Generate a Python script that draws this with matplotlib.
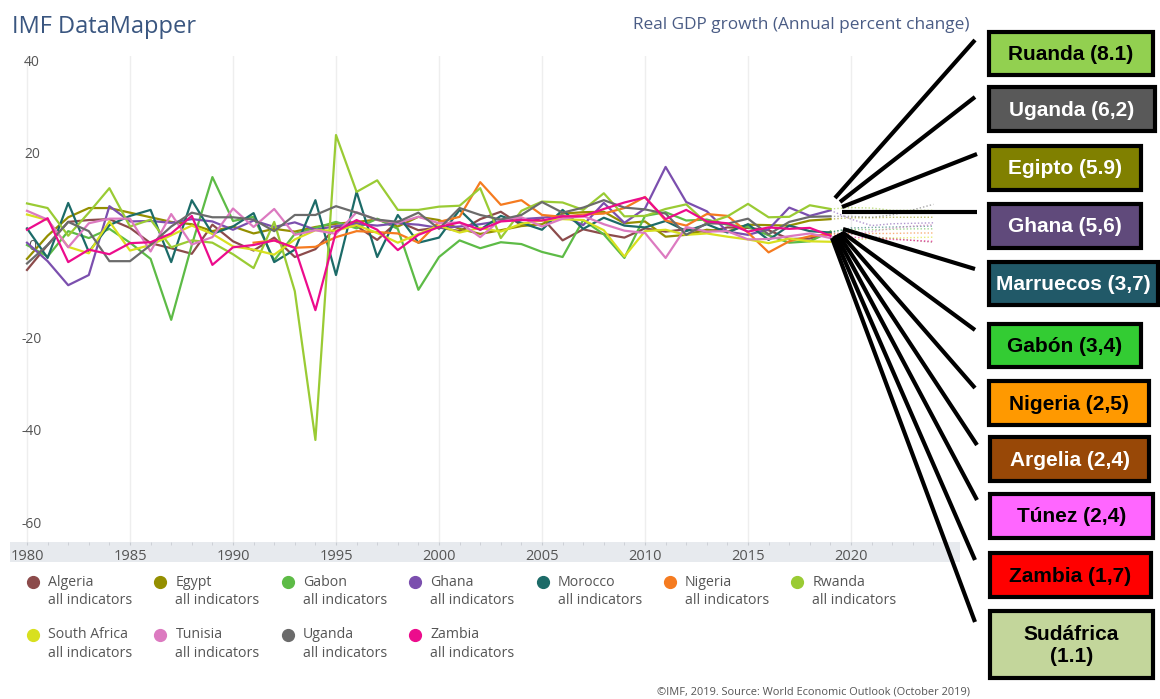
import numpy as np
import matplotlib
matplotlib.use("Agg")
import matplotlib.pyplot as plt
from matplotlib.patches import Rectangle

# Real GDP growth, annual % change, 1980-2024 (2020+ are projections)
years = list(range(1980, 2025))
last_actual = 2019

countries = ["Algeria", "Egypt", "Gabon", "Ghana", "Morocco", "Nigeria", "Rwanda",
             "South Africa", "Tunisia", "Uganda", "Zambia"]
colors = ["#8c4b4b", "#948f00", "#5dbb46", "#7b4fae", "#1c6b68", "#f57b20", "#9acb34",
          "#d8e01f", "#dc7ac0", "#6b6b6b", "#ec0c8c"]

algeria = [-5.4, 0.0, 5.0, 5.4, 5.6, 3.7, 0.4, -0.7, -1.9, 4.4, 0.8, -1.2, 1.6, -2.6, -0.9,
           3.8, 4.1, 1.1, 5.1, 3.2, 3.8, 3.0, 5.6, 7.2, 4.3, 5.9, 1.0, 3.4, 2.4, 1.6,
           3.6, 2.9, 3.4, 2.8, 3.8, 3.7, 3.2, 1.3, 1.4, 2.6, 2.4, 1.8, 1.4, 1.0, 0.6]
egypt = [-3.0, 2.0, 6.0, 8.0, 8.0, 7.0, 6.0, 5.0, 4.5, 3.0, 4.0, 2.5, 3.5, 2.9, 3.9,
         4.6, 5.0, 5.5, 4.0, 6.1, 5.4, 3.5, 2.4, 3.2, 4.1, 4.5, 6.8, 7.1, 7.2, 4.7,
         5.1, 1.8, 2.2, 3.3, 2.9, 4.4, 4.3, 4.2, 5.3, 5.6, 5.9, 5.9, 6.0, 6.0, 6.0]
gabon = [0.0, -2.5, 3.0, 1.5, 3.5, 0.5, -3.0, -16.2, 0.0, 14.7, 5.2, 6.1, -3.3, 2.4, 3.7,
         5.0, 3.6, 5.7, 3.5, -9.7, -2.6, 1.0, -0.7, 0.6, 0.2, -1.5, -2.6, 5.4, 2.3, -2.8,
         6.3, 7.1, 5.3, 5.5, 4.4, 3.9, 2.1, 0.5, 0.8, 2.9, 3.4, 3.3, 3.4, 3.5, 3.5]
ghana = [0.5, -3.5, -8.7, -6.5, 8.4, 5.1, 5.2, 4.8, 5.6, 5.1, 3.3, 5.3, 3.9, 4.9, 3.3,
         4.1, 4.6, 4.2, 4.7, 4.4, 3.7, 4.0, 4.5, 5.2, 5.6, 5.9, 6.4, 4.3, 9.1, 4.8,
         7.9, 16.9, 9.3, 7.3, 2.9, 2.2, 3.4, 8.1, 6.3, 7.5, 5.6, 4.2, 4.6, 4.7, 4.8]
morocco = [3.6, -2.8, 9.1, -1.5, 4.3, 6.3, 7.6, -3.7, 9.7, 2.4, 4.0, 6.9, -3.7, -1.0, 9.7,
           -6.5, 11.5, -2.6, 6.5, 0.5, 1.6, 7.6, 3.3, 6.3, 4.8, 3.3, 7.6, 3.5, 5.9, 4.2,
           3.8, 5.2, 3.0, 4.5, 2.7, 4.5, 1.1, 4.2, 3.0, 2.7, 3.7, 3.8, 3.9, 4.0, 4.1]
nigeria = [np.nan] * 11 + [
           0.5, 1.0, -0.6, -0.4, 1.7, 3.0, 2.8, 2.5, 0.5, 5.0, 6.1, 13.6, 8.7, 9.7,
           6.5, 6.1, 6.6, 6.8, 8.0, 10.4, 5.3, 4.2, 6.7, 6.3, 2.7, -1.6, 0.8, 1.9, 2.3,
           2.5, 2.5, 2.5, 2.6, 2.6]
rwanda = [9.0, 8.0, 2.0, 7.0, 12.3, 4.0, 5.5, -0.5, 1.0, 0.5, -2.0, -5.0, 5.0, -10.0, -42.2,
          23.8, 11.5, 14.0, 7.6, 7.6, 8.3, 8.5, 12.3, 1.5, 7.4, 9.4, 9.2, 7.6, 11.2, 6.2,
          6.3, 7.8, 8.8, 4.7, 6.2, 8.9, 6.0, 6.1, 8.6, 7.8, 8.1, 8.0, 7.5, 7.5, 7.5]
south_africa = [6.6, 5.4, -0.4, -1.8, 5.1, -1.2, 0.0, 2.1, 4.2, 2.4, -0.3, -1.0, -2.1, 1.2, 3.2,
                3.1, 4.3, 2.6, 0.5, 2.4, 4.2, 2.7, 3.7, 2.9, 4.6, 5.3, 5.6, 5.4, 3.2, -2.5,
                3.0, 3.3, 2.2, 2.5, 1.8, 1.2, 0.4, 1.4, 0.8, 0.7, 1.1, 1.4, 1.5, 1.6, 1.7]
tunisia = [7.4, 5.5, -0.5, 4.7, 5.7, 5.7, -1.4, 6.7, 0.1, 1.7, 7.9, 3.9, 7.8, 2.2, 3.2,
           2.4, 7.1, 5.4, 4.8, 6.1, 4.7, 4.9, 1.7, 5.5, 6.0, 4.0, 5.7, 6.3, 4.5, 3.1,
           2.6, -2.8, 3.9, 2.9, 3.0, 1.2, 1.3, 1.9, 2.5, 1.5, 2.4, 2.9, 3.6, 4.1, 4.4]
uganda = [-4.0, 0.0, 5.0, 3.0, -3.5, -3.5, 0.0, 4.0, 7.0, 6.0, 6.0, 5.5, 3.0, 6.5, 6.5,
          8.4, 7.0, 5.5, 5.0, 7.0, 3.5, 8.0, 6.5, 5.5, 6.5, 9.3, 7.0, 8.1, 9.7, 8.1,
          7.7, 6.8, 2.2, 4.7, 4.6, 5.7, 2.3, 5.0, 6.1, 6.2, 6.2, 6.0, 6.5, 7.6, 8.8]
zambia = [3.3, 5.8, -3.7, -1.0, -2.0, 0.4, 0.6, 2.5, 6.3, -4.3, -0.5, 0.0, 1.0, -0.6, -14.1,
          2.9, 5.4, 3.3, -1.1, 2.2, 3.9, 4.9, 3.3, 5.1, 5.4, 5.3, 6.2, 6.2, 7.8, 9.2,
          10.3, 5.6, 7.6, 5.1, 4.7, 2.9, 3.8, 3.5, 3.7, 2.0, 1.7, 1.5, 1.2, 1.0, 0.8]

series = [algeria, egypt, gabon, ghana, morocco, nigeria, rwanda,
          south_africa, tunisia, uganda, zambia]

# callout boxes on the right
box_labels = ["Ruanda (8.1)", "Uganda (6,2)", "Egipto (5.9)", "Ghana (5,6)", "Marruecos (3,7)",
              "Gabón (3,4)", "Nigeria (2,5)", "Argelia (2,4)", "Túnez (2,4)", "Zambia (1,7)",
              "Sudáfrica\n(1.1)"]
box_fill = ["#92d050", "#595959", "#808000", "#604a7b", "#215968", "#33cc33", "#ff9900",
            "#984807", "#ff66ff", "#ff0000", "#c3d69b"]
box_text = ["black", "white", "white", "white", "white", "black", "black",
            "white", "black", "black", "black"]

W, H = 1160, 699
fig = plt.figure(figsize=(W / 100, H / 100), dpi=100)
FONT = "Open Sans"

# main axes, pixel geometry: 1980 at x=27, 20.6 px/yr; y=0 at 245, 4.62 px/unit
x0, x1 = 1979.2, 2025.5
px_left = 27 + (x0 - 1980) * 20.6
px_right = 27 + (x1 - 1980) * 20.6
y_top, y_bot = 41.0, -64.3
py_top = 245 - y_top * 4.62
py_bot = 245 - y_bot * 4.62
ax = fig.add_axes([px_left / W, 1 - py_bot / H, (px_right - px_left) / W, (py_bot - py_top) / H])
ax.set_xlim(x0, x1)
ax.set_ylim(y_bot, y_top)
for s in ax.spines.values():
    s.set_visible(False)

yrs = np.array(years)
split = years.index(last_actual)
for vals, c in zip(series, colors):
    v = np.array(vals, dtype=float)
    ax.plot(yrs[:split + 1], v[:split + 1], color=c, lw=1.6, zorder=3)
    ax.plot(yrs[split:], v[split:], color=c, lw=1.0, ls=(0, (1, 1.5)), alpha=0.6, zorder=2)

ax.set_xticks(range(1980, 2025, 5))
ax.set_xticklabels([str(y) for y in range(1980, 2025, 5)])
ax.set_xticks(range(1980, 2025), minor=True)
ax.tick_params(axis="x", which="both", length=2.5, color="#c8ccd2", pad=2.5,
               labelsize=10.5, labelcolor="#555555")
ax.grid(axis="x", which="major", color="#eeeeee", lw=1, zorder=0)

ax.set_yticks([40, 20, 0, -20, -40, -60])
ax.set_yticklabels(["40", "20", "0", "-20", "-40", "-60"])
ax.tick_params(axis="y", length=0, pad=-15.5, labelsize=10, labelcolor="#555555")
for lbl in ax.get_yticklabels():
    lbl.set_horizontalalignment("center")
for lbl in ax.get_xticklabels() + ax.get_yticklabels():
    lbl.set_fontfamily(FONT)

# overlay in pixel coordinates for decoration
ov = fig.add_axes([0, 0, 1, 1], zorder=5)
ov.set_xlim(0, W)
ov.set_ylim(H, 0)
ov.axis("off")
ov.patch.set_alpha(0)

# grey x-axis band (behind labels)
band = fig.add_axes([10 / W, 1 - 562 / H, 950 / W, 20 / H], zorder=-1)
band.set_facecolor("#e7eaee")
band.set_xticks([])
band.set_yticks([])
for s in band.spines.values():
    s.set_visible(False)
ax.set_zorder(1)
ax.patch.set_alpha(0)

fig.text(12 / W, 1 - 27 / H, "IMF DataMapper", fontsize=17, color="#3a5680",
         va="center", ha="left", family=FONT)
fig.text(970 / W, 1 - 25 / H, "Real GDP growth (Annual percent change)", fontsize=12.4,
         color="#4a5c85", va="center", ha="right", family=FONT)
fig.text(970 / W, 1 - 692 / H, "©IMF, 2019. Source: World Economic Outlook (October 2019)",
         fontsize=7.9, color="#555555", va="center", ha="right", family=FONT)

# legend
for i, (name, c) in enumerate(zip(countries, colors)):
    row, col = divmod(i, 7)
    lx = 33 + col * 127.4
    ly = 582 + row * 52.5
    ov.plot(lx, ly, "o", ms=8.5, color=c, mec=c)
    ov.text(lx + 15, ly, name, fontsize=10.2, color="#555555", va="center", ha="left", family=FONT)
    ov.text(lx + 15, ly + 19, "all indicators", fontsize=10.2, color="#555555",
            va="center", ha="left", family=FONT)

# callouts
boxes = [(987, 30, 1155, 77), (987, 85, 1157, 133), (987, 144, 1143, 192), (987, 202, 1143, 250),
         (987, 260, 1160, 307), (987, 322, 1143, 369), (987, 379, 1151, 427), (988, 435, 1151, 483),
         (988, 492, 1155, 540), (988, 551, 1153, 599), (988, 609, 1155, 680)]
starts = [(835, 198), (840, 202), (842, 207), (842, 212), (843, 229), (842, 232), (840, 233),
          (838, 234), (836, 235), (834, 236), (832, 238)]
ends = [(975, 40), (975, 97), (977, 154), (977, 212), (975, 269), (975, 330), (975, 388),
        (977, 445), (977, 500), (975, 560), (975, 622)]
for (bx0, by0, bx1, by1), lab, fc, tc, st, en in zip(boxes, box_labels, box_fill, box_text, starts, ends):
    ov.plot([st[0], en[0]], [st[1], en[1]], color="black", lw=3, solid_capstyle="butt")
    ov.add_patch(Rectangle((bx0 + 2, by0 + 2), bx1 - bx0 - 4, by1 - by0 - 4,
                           facecolor=fc, edgecolor="black", lw=3))
    ov.text((bx0 + bx1) / 2, (by0 + by1) / 2 + 1, lab, fontsize=15, fontweight="bold",
            color=tc, ha="center", va="center", family="Liberation Sans", linespacing=1.15)

fig.savefig("out.png", dpi=100)
